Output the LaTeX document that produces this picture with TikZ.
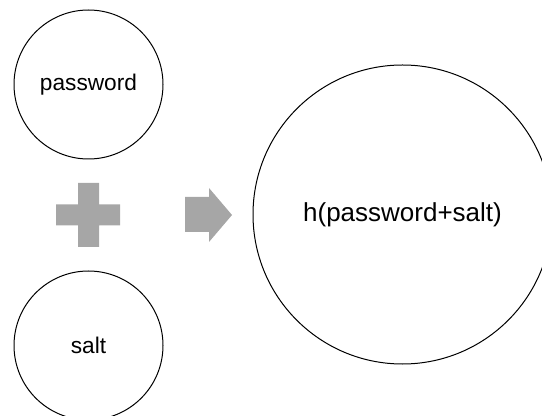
\documentclass[tikz,border=0pt]{standalone}
\usepackage{fontspec}
\setmainfont{Liberation Sans}
\usepackage{tikz}
\usetikzlibrary{positioning}
\definecolor{plusgray}{RGB}{166,166,166}
\tikzset{
  bubble/.style={circle, draw, line width=0.75, inner sep=0pt, font=\fontsize{17}{20}\selectfont},
  glyph/.style={fill=plusgray, draw=none}
}

\begin{document}
\begin{tikzpicture}[x=0.75pt,y=0.75pt,yscale=-1,xscale=1]
\useasboundingbox (0,0) rectangle (542,416);
\clip (0,0) rectangle (542,416);

%Shape: Circle [password]
\node [bubble, minimum size=111.75pt] (password) at (88.5,84.5) {password};
%Shape: Circle [salt]
\node [bubble, minimum size=111.75pt] (salt) at (88.5,345.5) {salt};
%Shape: Circle [hash]
\node [bubble, minimum size=224.25pt, font=\fontsize{19.5}{23}\selectfont] (hash) at (402.5,214.5) {h(password+salt)};

%Shape: Plus
\fill [glyph] (56,204.5) -- (78,204.5) -- (78,183) -- (99,183) -- (99,204.5) -- (120,204.5) -- (120,225.5) -- (99,225.5) -- (99,247) -- (78,247) -- (78,225.5) -- (56,225.5) -- cycle ;
%Shape: Right Arrow
\fill [glyph] (185,197) -- (209,197) -- (209,188) -- (232,215) -- (209,242) -- (209,232) -- (185,232) -- cycle ;

\end{tikzpicture}
\end{document}
